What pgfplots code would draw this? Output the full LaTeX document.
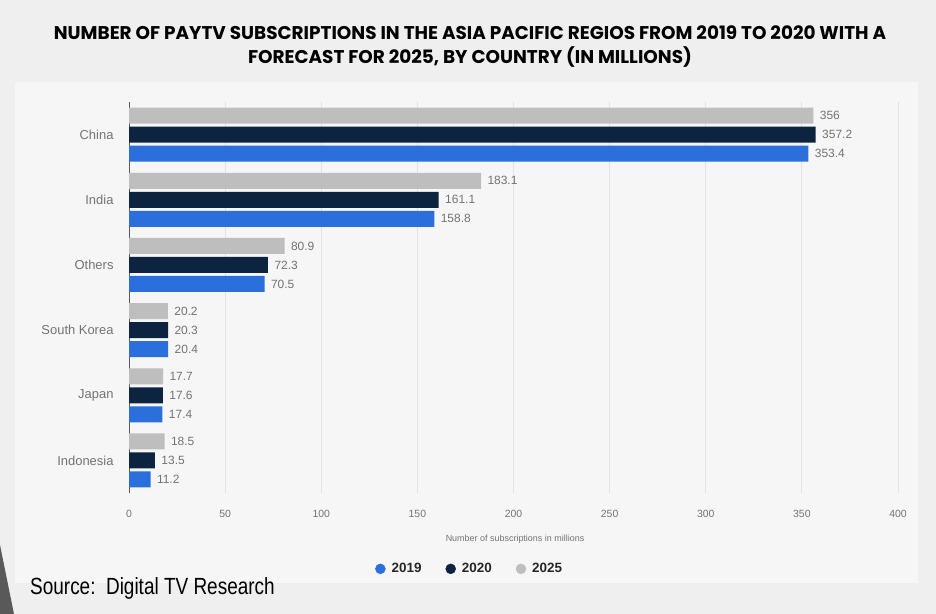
\documentclass[border=0pt]{standalone}
\usepackage{fontspec}
\setmainfont{Liberation Sans}
\newfontfamily\titlefont{Poppins}
\usepackage{pgfplots}
\pgfplotsset{compat=1.18}
\definecolor{bg}{HTML}{EFEFEF}
\definecolor{panel}{HTML}{F6F6F6}
\definecolor{c19}{HTML}{2A6FDB}
\definecolor{c20}{HTML}{0D2440}
\definecolor{c25}{HTML}{BEBEBE}
\definecolor{tickc}{HTML}{737373}
\definecolor{gridc}{HTML}{E3E3E3}
\begin{document}
\begin{tikzpicture}
\useasboundingbox (0bp,0bp) rectangle (936bp,614bp);
\fill[bg] (0bp,0bp) rectangle (936bp,614bp);
\fill[panel] (15bp,31bp) rectangle (918bp,532bp);
\fill[black!65] (0bp,0bp) -- (0bp,69bp) -- (14bp,0bp) -- cycle;
\node[font=\titlefont\bfseries\fontsize{18.5}{24}\selectfont, align=center, text=black] at (470bp,567.5bp)
  {NUMBER OF PAYTV SUBSCRIPTIONS IN THE ASIA PACIFIC REGIOS FROM 2019 TO 2020 WITH A\\FORECAST FOR 2025, BY COUNTRY (IN MILLIONS)};
\node[anchor=base west, font=\fontsize{23.5}{26}\selectfont, text=black, inner sep=0pt] at (30bp,20bp) {\scalebox{0.81}[1]{Source:\ \ Digital TV Research}};
\begin{axis}[
  at={(129bp,121bp)}, anchor=origin, scale only axis,
  width=769bp, height=391bp,
  xbar, bar width=16bp,
  xmin=0, xmax=400, ymin=0, ymax=6,
  xtick={0,50,...,400}, ytick={0.5,1.5,...,5.5},
  yticklabels={Indonesia,Japan,South Korea,Others,India,China},
  axis lines=left,
  axis line style={-},
  x axis line style={draw=none},
  y axis line style={draw=black!65, line width=0.8bp},
  xmajorgrids, grid style={draw=gridc, line width=1bp},
  major tick length=0pt,
  tick label style={text=tickc},
  xticklabel style={font=\fontsize{10.5}{12}\selectfont, yshift=-14bp},
  yticklabel style={font=\fontsize{13}{15}\selectfont, xshift=-12bp},
  /pgf/number format/assume math mode=true,
  xlabel={Number of subscriptions in millions},
  xlabel style={at={(axis description cs:0.502,-0.1176)}, anchor=center, font=\fontsize{9}{10}\selectfont, text=tickc},
  nodes near coords,
  nodes near coords style={font=\fontsize{12}{13}\selectfont, text=tickc, anchor=west, xshift=3bp},
  legend style={at={(0.443,-0.194)}, anchor=center, legend columns=3, draw=none, fill=none,
    font=\bfseries\fontsize{13.5}{15}\selectfont, text=black!85,
    /tikz/every even column/.append style={column sep=22bp}},
  legend entries={2019,2020,2025},
]
\addlegendimage{legend image code/.code={\fill[c19] (0bp,0bp) circle (5bp); \path (9bp,0bp);}}
\addlegendimage{legend image code/.code={\fill[c20] (0bp,0bp) circle (5bp); \path (9bp,0bp);}}
\addlegendimage{legend image code/.code={\fill[c25] (0bp,0bp) circle (5bp); \path (9bp,0bp);}}
\addplot[fill=c19, draw=none, bar shift=-19bp] coordinates {(11.2,0.5) (17.4,1.5) (20.4,2.5) (70.5,3.5) (158.8,4.5) (353.4,5.5)};
\addplot[fill=c20, draw=none, bar shift=0bp] coordinates {(13.5,0.5) (17.6,1.5) (20.3,2.5) (72.3,3.5) (161.1,4.5) (357.2,5.5)};
\addplot[fill=c25, draw=none, bar shift=19bp] coordinates {(18.5,0.5) (17.7,1.5) (20.2,2.5) (80.9,3.5) (183.1,4.5) (356,5.5)};
\end{axis}
\end{tikzpicture}
\end{document}
